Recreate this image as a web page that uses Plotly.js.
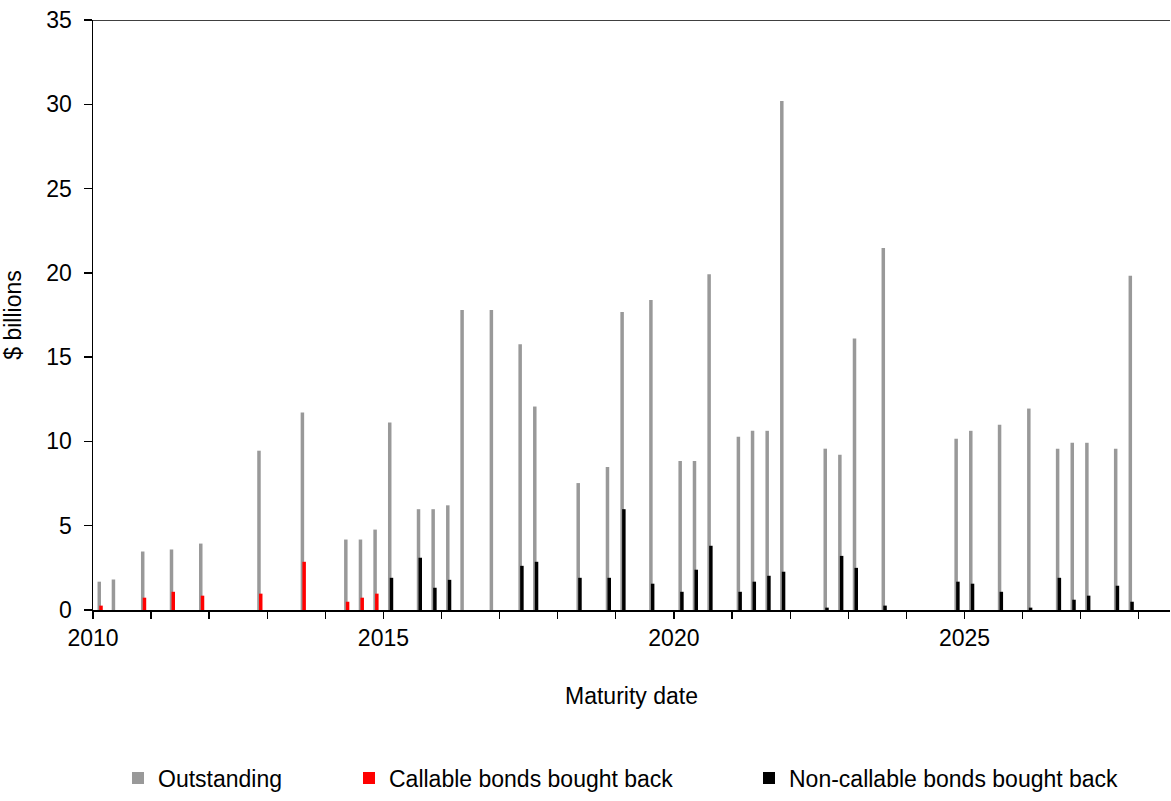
<!DOCTYPE html>
<html>
<head>
<meta charset="utf-8">
<script src="https://cdn.plot.ly/plotly-3.0.1.min.js"></script>
<style>
  html, body { margin: 0; padding: 0; background: #ffffff; }
  #chart { width: 1171px; height: 801px; }
</style>
</head>
<body>
<div id="chart"></div>
<script>
// Maturity dates of the bonds
const maturityDates = ['2010-02-15','2010-05-15','2010-11-15','2011-05-15','2011-11-15','2012-11-15','2013-08-15','2014-05-15','2014-08-15','2014-11-15','2015-02-15','2015-08-15','2015-11-15','2016-02-15','2016-05-15','2016-11-15','2017-05-15','2017-08-15','2018-05-15','2018-11-15','2019-02-15','2019-08-15','2020-02-15','2020-05-15','2020-08-15','2021-02-15','2021-05-15','2021-08-15','2021-11-15','2022-08-15','2022-11-15','2023-02-15','2023-08-15','2024-11-15','2025-02-15','2025-08-15','2026-02-15','2026-08-15','2026-11-15','2027-02-15','2027-08-15','2027-11-15'];

// $ billions
const outstanding = [1.68,1.81,3.47,3.59,3.94,9.45,11.72,4.18,4.18,4.77,11.12,5.98,5.98,6.21,17.80,17.80,15.77,12.07,7.53,8.48,17.68,18.39,8.84,8.84,19.92,10.28,10.63,10.63,30.2,9.57,9.21,16.11,21.48,10.16,10.63,10.99,11.95,9.57,9.92,9.92,9.57,19.83];

const callableBoughtBack = [0.26,null,0.73,1.08,0.85,0.97,2.86,0.49,0.73,0.97,null,null,null,null,null,null,null,null,null,null,null,null,null,null,null,null,null,null,null,null,null,null,null,null,null,null,null,null,null,null,null,null];

const nonCallableBoughtBack = [null,null,null,null,null,null,null,null,null,null,1.91,3.10,1.32,1.79,null,null,2.62,2.86,1.91,1.91,5.98,1.56,1.08,2.39,3.81,1.08,1.68,2.03,2.27,0.14,3.21,2.50,0.26,1.68,1.56,1.08,0.14,1.91,0.61,0.85,1.44,0.49];

const seriesNames = ['Outstanding', 'Callable bonds bought back', 'Non-callable bonds bought back'];

const tickYears = [2010,2011,2012,2013,2014,2015,2016,2017,2018,2019,2020,2021,2022,2023,2024,2025,2026,2027,2028];
const labelledYears = [2010, 2015, 2020, 2025];

const DAY = 86400000;
const barW = 22 * DAY;
const FONT = 'Arial, "Liberation Sans", sans-serif';
const FS = 23;

const traces = [
  {
    type: 'bar', name: seriesNames[0], x: maturityDates, y: outstanding,
    width: barW, offset: -0.75 * barW,
    marker: { color: '#999999', line: { width: 0 } },
    legend: 'legend'
  },
  {
    type: 'bar', name: seriesNames[1], x: maturityDates, y: callableBoughtBack,
    width: barW, offset: -0.25 * barW,
    marker: { color: '#ff0000', line: { width: 0 } },
    legend: 'legend2'
  },
  {
    type: 'bar', name: seriesNames[2], x: maturityDates, y: nonCallableBoughtBack,
    width: barW, offset: -0.25 * barW,
    marker: { color: '#000000', line: { width: 0 } },
    legend: 'legend3'
  }
];

const W = 1171, H = 801;
const m = { l: 93, r: 1, t: 20, b: 188 };
const pw = W - m.l - m.r, ph = H - m.t - m.b;
const px = v => (v - m.l) / pw;
const py = v => (H - m.b - v) / ph;

function legendAt(xpx) {
  return {
    orientation: 'h', x: px(xpx), xanchor: 'left', y: py(782), yanchor: 'middle',
    bgcolor: 'rgba(0,0,0,0)', borderwidth: 0,
    font: { family: FONT, size: FS, color: '#000' },
    itemwidth: 30, itemclick: false, itemdoubleclick: false
  };
}

const layout = {
  width: W, height: H,
  margin: m,
  paper_bgcolor: '#ffffff', plot_bgcolor: '#ffffff',
  barmode: 'overlay',
  showlegend: true,
  font: { family: FONT, size: FS, color: '#000' },
  xaxis: {
    type: 'date',
    range: ['2010-01-01', '2028-07-16'],
    tickmode: 'array',
    tickvals: tickYears.map(y => y + '-01-01'),
    ticktext: tickYears.map(y => labelledYears.includes(y) ? String(y) : ''),
    ticks: 'outside', ticklen: 7, tickwidth: 1.3, tickcolor: '#000',
    showline: true, linecolor: '#000', linewidth: 1.5,
    showgrid: false, zeroline: false,
    tickfont: { family: FONT, size: FS, color: '#000' },
    title: { text: 'Maturity date', font: { family: FONT, size: FS, color: '#000' }, standoff: 38 },
    automargin: false, fixedrange: true
  },
  yaxis: {
    range: [0, 35], dtick: 5, tick0: 0,
    ticks: 'outside', ticklen: 8, tickwidth: 1.3, tickcolor: '#000',
    showline: true, linecolor: '#000', linewidth: 1.5,
    showgrid: false, zeroline: false,
    tickfont: { family: FONT, size: FS, color: '#000' },
    ticklabelstandoff: 7,
    title: { text: '$ billions', font: { family: FONT, size: FS, color: '#000' }, standoff: 20 },
    automargin: false, fixedrange: true
  },
  legend: legendAt(118),
  legend2: legendAt(349),
  legend3: legendAt(749),
  shapes: [
    { type: 'line', xref: 'paper', yref: 'y', x0: 0, x1: 1, y0: 35, y1: 35,
      line: { color: '#000', width: 1.5 } }
  ]
};

Plotly.newPlot('chart', traces, layout, { displayModeBar: false, staticPlot: true });
</script>
</body>
</html>
